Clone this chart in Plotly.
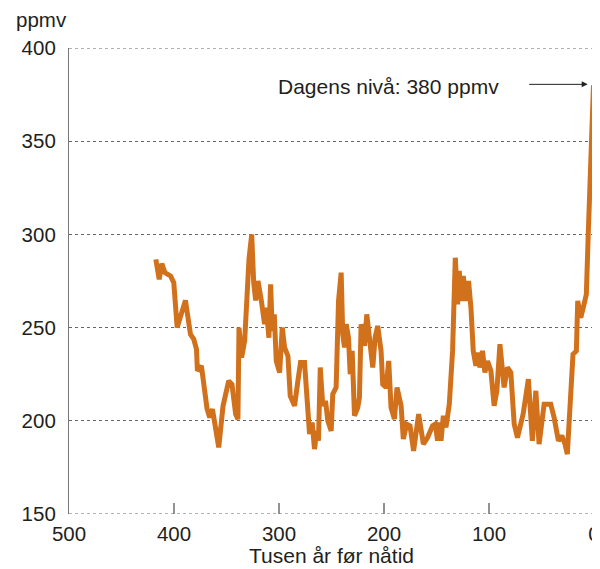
import plotly.graph_objects as go

ages = [417.3, 414.1, 411.6, 408.7, 403.3, 400.2, 397, 393.5, 389.1, 384.3, 381.2, 378.6, 377.7, 373.9,
        368.5, 366, 363.4, 357.4, 353.3, 347.9, 344.8, 341.3, 339.1, 338.1, 335.6, 332.7, 328.6, 326,
        324.1, 322.2, 320, 316.8, 313.7, 312.1, 309.6, 308, 306.4, 304.5, 302.6, 299.4, 296.9, 294.7,
        291.5, 289.3, 285.2, 282, 279.5, 275.7, 270.9, 268.4, 266.2, 264, 262.4, 260.7, 258.3, 255.7,
        253.5, 250.3, 248.8, 245.6, 243.3, 240.8, 239.3, 237.6, 236, 233.8, 232.2, 230.3, 228.1, 225,
        223.4, 221.8, 218.6, 216.4, 214.5, 210.7, 208.5, 206, 202.8, 201.2, 198, 195.5, 193.3, 190.1,
        187.6, 183.7, 181.6, 178.4, 175.2, 171.8, 167, 162.5, 158.5, 153.7, 151.1, 149, 147.3, 145.7,
        143.5, 141, 137.8, 134.7, 132.1, 129.9, 128.3, 126.7, 124.5, 122, 119.5, 117.2, 115, 112.5,
        110.9, 108.7, 106.2, 103.9, 101.4, 98.2, 95.1, 92.5, 89.6, 87.2, 85.6, 82.4, 79.2, 76, 72.9,
        67.5, 62.5, 58.7, 55.4, 52.3, 47.5, 41.2, 38, 33.9, 30.7, 27.6, 25.4, 20, 16.8, 15.5, 12.6,
        9.5, 7.3, 5.5, 3.2, 0.5]
co2 = [286.6, 275.9, 284.3, 279.5, 277.7, 274.1, 250, 257.1, 264.6, 246.4, 243.8, 238.4, 226.8, 229.5,
       206.3, 201.8, 206.3, 185.7, 208, 221.4, 219.6, 203.6, 200.9, 250, 233.9, 242.9, 286.6, 300,
       274.1, 264.6, 275, 264.3, 251.8, 260.7, 244.6, 273.2, 248.2, 257.1, 232.1, 225.9, 250, 239.3,
       234.8, 213.4, 208, 221.4, 231.3, 231.3, 192.9, 199.1, 184.8, 194.6, 189.3, 228.6, 208, 210.7,
       200, 194.6, 214.3, 217.9, 264.3, 279.5, 246.4, 239.3, 251.8, 244.6, 225, 237.5, 202.7, 207.1,
       212.5, 251.8, 240.2, 257.1, 246.4, 228.6, 244.6, 250.9, 237.5, 219.6, 217.9, 232.1, 207.1, 200.9,
       217.9, 208, 190.2, 198.2, 197.3, 183.9, 203.6, 187.5, 191, 197.3, 198.2, 189.3, 199.1, 189.3,
       202.7, 196.4, 208.9, 237.5, 287.5, 262.5, 280.4, 264.3, 277.7, 264.3, 275, 260.7, 237.5, 229.5,
       236.6, 228.6, 237.5, 225.9, 232.1, 226.8, 208, 216.1, 241.1, 228.6, 217.9, 228.6, 225.9, 198.2, 191,
       203.6, 222.3, 189.3, 216.1, 187.5, 208.9, 208.9, 201.8, 189.3, 192, 187.5, 182.1, 235.7, 237.5, 264.3, 255.4,
       262.5, 267.9, 300, 345, 380]

x_ticks = [500, 400, 300, 200, 100, 0]
y_ticks = [150, 200, 250, 300, 350, 400]

FONT = "Liberation Sans, Arial, sans-serif"
TXT = "#231f20"

fig = go.Figure()
fig.add_trace(go.Scatter(x=ages, y=co2, mode="lines",
                         line=dict(color="#D2711C", width=5),
                         hoverinfo="skip", showlegend=False, cliponaxis=False))

# page body adds an 8px offset, so margins compensate for it
fig.update_layout(
    width=600, height=569,
    margin=dict(l=61, r=14, t=40, b=63, autoexpand=False),
    paper_bgcolor="white", plot_bgcolor="white",
    font=dict(family=FONT, size=20.5, color=TXT),
    xaxis=dict(range=[500, 0], tickvals=x_ticks, ticktext=[str(v) for v in x_ticks],
               showgrid=False, zeroline=False, showline=False, automargin=False,
               ticks="", ticklabelstandoff=5,
               tickfont=dict(size=20.5, color=TXT),
               title=dict(text="Tusen år før nåtid", font=dict(size=21, color=TXT), standoff=2)),
    yaxis=dict(range=[150, 400], tickvals=y_ticks, ticktext=[str(v) for v in y_ticks],
               showgrid=True, gridcolor="#666", griddash="3px,3px", gridwidth=1,
               zeroline=False, showline=True, linecolor="#777", linewidth=1.2, mirror=True,
               ticks="", ticklabelstandoff=8, automargin=False,
               tickfont=dict(size=20.5, color=TXT)),
    annotations=[
        dict(text="ppmv", xref="paper", yref="paper", x=-55/525, y=1 + 28/466,
             xanchor="left", yanchor="middle", showarrow=False,
             font=dict(size=20.5, color=TXT)),
        dict(text="Dagens nivå: 380 ppmv", xref="x", yref="y", x=89, y=379.5,
             xanchor="right", yanchor="middle", showarrow=False,
             font=dict(size=21, color=TXT)),
        dict(text="", xref="x", yref="y", x=6, y=380.5, ax=-60, ay=0,
             axref="pixel", ayref="pixel", showarrow=True,
             arrowhead=2, arrowsize=1.2, arrowwidth=1, arrowcolor="#222"),
    ],
)

for yv in (150, 400):
    fig.add_shape(type="line", xref="paper", yref="y", x0=0, x1=1, y0=yv, y1=yv,
                  line=dict(color="#666", width=1, dash="3px,3px"), layer="below")

# inside tick marks on the bottom edge, one per x tick
for xv in x_ticks[1:-1]:
    fig.add_shape(type="line", xref="x", yref="paper", x0=xv, x1=xv, y0=0, y1=11/466,
                  line=dict(color="#777", width=1.6), layer="above")

fig.write_html("out.html")
